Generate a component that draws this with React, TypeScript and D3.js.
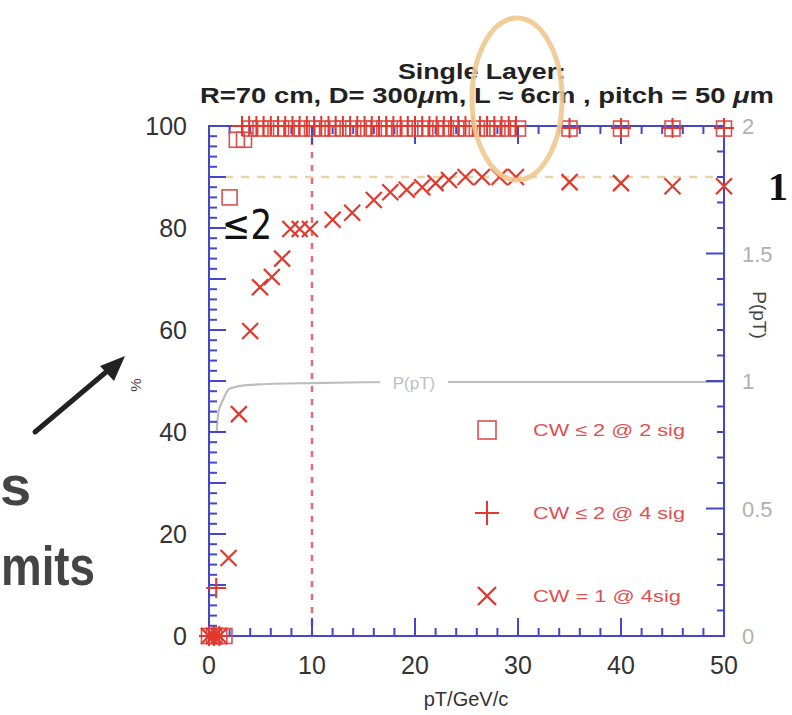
import React from "react";
import * as d3 from "d3";

// ---------- data ----------
const xTickLabels = [0, 10, 20, 30, 40, 50];
const yTickLabels = [0, 20, 40, 60, 80, 100];
const yRightTickLabels = ["0", "0.5", "1", "1.5", "2"];
const yRightTickValues = [0, 0.5, 1, 1.5, 2];

// CW <= 2 @ 2 sig (squares)
const sqPt = [0, 0.5, 1, 1.5, 2, 2.7, 3.4, 4, 5, 6, 7, 8, 9, 10, 11, 12, 13, 14, 15, 16, 17, 18, 19, 20, 21, 22, 23, 24, 25, 26, 27, 28, 29, 30, 35, 40, 45, 50];
const sqVal = [0, 0, 0, 0, 86, 97.3, 97.3, 99.5, 99.5, 99.5, 99.5, 99.5, 99.5, 99.5, 99.5, 99.5, 99.5, 99.5, 99.5, 99.5, 99.5, 99.5, 99.5, 99.5, 99.5, 99.5, 99.5, 99.5, 99.5, 99.5, 99.5, 99.5, 99.5, 99.5, 99.5, 99.5, 99.5, 99.5];

// CW <= 2 @ 4 sig (pluses)
const plPt = [0, 0.5, 1, 0.7, 3.2, 3.9, 4.6, 5.3, 6, 6.7, 7.4, 8.1, 8.8, 9.5, 10.2, 10.9, 11.6, 12.3, 13, 13.7, 14.4, 15.1, 15.8, 16.5, 17.2, 17.9, 18.6, 19.3, 20, 20.7, 21.4, 22.1, 22.8, 23.5, 24.2, 24.9, 25.6, 26.3, 27, 27.7, 28.4, 29.1, 29.8, 35, 40, 45, 50];
const plVal = [0, 0, 0, 9.4, 100, 100, 100, 100, 100, 100, 100, 100, 100, 100, 100, 100, 100, 100, 100, 100, 100, 100, 100, 100, 100, 100, 100, 100, 100, 100, 100, 100, 100, 100, 100, 100, 100, 100, 100, 100, 100, 100, 100, 99.6, 99.6, 99.6, 99.6];

// CW = 1 @ 4sig (crosses)
const crPt = [0, 0.5, 1, 1.9, 2.9, 4, 4.95, 6.1, 7.1, 7.9, 8.8, 9.8, 12, 13.9, 16, 17.6, 19.2, 20.7, 22, 23.3, 24.9, 26.5, 28.2, 29.8, 35, 40, 45, 50];
const crVal = [0, 0, 0, 15.3, 43.5, 59.8, 68.4, 70.4, 74, 79.8, 79.8, 79.8, 81.6, 83, 85.5, 87, 87.5, 88, 88.8, 89.4, 90, 90, 90, 90, 89, 88.8, 88.2, 88.2];

// P(pT) curve (right axis)
const pPt = [0.75, 0.9, 1.35, 2, 4, 10, 20, 50];
const pVal = [0.8, 0.875, 0.925, 0.97, 0.985, 0.992, 0.996, 0.996];

const legendItems = ["CW \u2264 2 @ 2 sig", "CW \u2264 2 @ 4 sig", "CW = 1 @ 4sig"];

// ---------- layout ----------
const W = 792, H = 715;
const L = 209, R = 724, T = 126, B = 636;
const BLUE = "#4646cc";
const RED = "#e2392c";
const SQRED = "#dc5050";
const FONT = "'Liberation Sans', Arial, Helvetica, sans-serif";

const x = d3.scaleLinear().domain([0, 50]).range([L, R]);
const y = d3.scaleLinear().domain([0, 100]).range([B, T]);
const yR = d3.scaleLinear().domain([0, 2]).range([B, T]);

const Square = ({ cx, cy, s, color, w }: any) => (
  <rect x={cx - s / 2} y={cy - s / 2} width={s} height={s} fill="none" stroke={color} strokeWidth={w} />
);
const Plus = ({ cx, cy, s, color, w }: any) => (
  <path d={`M${cx - s / 2},${cy}H${cx + s / 2}M${cx},${cy - s / 2}V${cy + s / 2}`} stroke={color} strokeWidth={w} fill="none" />
);
const Cross = ({ cx, cy, s, color, w }: any) => (
  <path d={`M${cx - s / 2},${cy - s / 2}L${cx + s / 2},${cy + s / 2}M${cx - s / 2},${cy + s / 2}L${cx + s / 2},${cy - s / 2}`} stroke={color} strokeWidth={w} fill="none" />
);

export default function App() {
  const minorX = d3.range(0, 51, 2);
  const minorY = d3.range(0, 101, 2);
  const minorR = d3.range(0, 21, 1).map((v) => v / 10);

  const pLine = d3
    .line<number>()
    .x((_, i) => x(pPt[i]))
    .y((d) => yR(d))
    .curve(d3.curveMonotoneX)(pVal) as string;

  return (
    <svg width={W} height={H} style={{ position: "absolute", left: 0, top: 0, background: "#fff" }} fontFamily={FONT}>
      <rect width={W} height={H} fill="#fff" />

      {/* Title */}
      <text x={482} y={79} textAnchor="middle" fontSize={22} fontWeight="bold" fill="#222" textLength={168} lengthAdjust="spacingAndGlyphs">Single Layer:</text>
      <text x={487} y={103} textAnchor="middle" fontSize={22} fontWeight="bold" fill="#222" textLength={574} lengthAdjust="spacingAndGlyphs">
        R=70 cm, D= 300<tspan fontStyle="italic">μ</tspan>m, L ≈ 6cm , pitch = 50 <tspan fontStyle="italic">μ</tspan>m
      </text>

      {/* dashed reference lines */}
      <line x1={x(0)} x2={x(50)} y1={y(90)} y2={y(90)} stroke="#ecd2a6" strokeWidth={2.5} strokeDasharray="8,8" />
      <line x1={x(10)} x2={x(10)} y1={T} y2={B} stroke="#e26a7c" strokeWidth={2.5} strokeDasharray="6,7" />

      {/* P(pT) curve */}
      <path d={pLine} fill="none" stroke="#bdbdbd" strokeWidth={2.2} />
      <rect x={380} y={372} width={68} height={22} fill="#fff" />
      <text x={414} y={389} textAnchor="middle" fontSize={17} fill="#c0c0c0">P(pT)</text>

      {/* axes frame */}
      <g stroke={BLUE} strokeWidth={2} fill="none">
        <rect x={L} y={T} width={R - L} height={B - T} />
        {minorX.map((v) => {
          const len = v % 10 === 0 ? 18 : 8;
          return (
            <g key={"x" + v}>
              <line x1={x(v)} x2={x(v)} y1={B} y2={B - len} />
              <line x1={x(v)} x2={x(v)} y1={T} y2={T + len} />
            </g>
          );
        })}
        {minorY.map((v) => {
          const len = v % 10 === 0 ? 17 : 8;
          return <line key={"y" + v} x1={L} x2={L + len} y1={y(v)} y2={y(v)} />;
        })}
        {minorR.map((v, i) => {
          const len = i % 5 === 0 ? 18 : 7;
          return <line key={"r" + i} x1={R} x2={R - len} y1={yR(v)} y2={yR(v)} />;
        })}
      </g>

      {/* tick labels */}
      {yTickLabels.map((v) => (
        <text key={"yl" + v} x={187} y={y(v) + 9} textAnchor="end" fontSize={25} fill="#333">{v}</text>
      ))}
      {xTickLabels.map((v) => (
        <text key={"xl" + v} x={x(v)} y={674} textAnchor="middle" fontSize={25} fill="#333">{v}</text>
      ))}
      {yRightTickValues.map((v, i) => (
        <text key={"rl" + i} x={742} y={yR(v) + 8} textAnchor="start" fontSize={22} fill="#b0b0b0">{yRightTickLabels[i]}</text>
      ))}

      {/* axis titles */}
      <text x={466} y={706} textAnchor="middle" fontSize={20} fill="#333">pT/GeV/c</text>
      <text transform="translate(753,315) rotate(90)" textAnchor="middle" fontSize={19} fill="#444">P(pT)</text>
      <text transform="translate(141,385) rotate(-90)" textAnchor="middle" fontSize={15} fill="#444">%</text>

      {/* data: squares */}
      {sqPt.map((p, i) => (
        <Square key={"s" + i} cx={x(p)} cy={y(sqVal[i])} s={15} color={SQRED} w={1.6} />
      ))}
      {/* data: pluses */}
      {plPt.map((p, i) => (
        <Plus key={"p" + i} cx={x(p)} cy={y(plVal[i])} s={20} color={RED} w={2} />
      ))}
      {/* data: crosses */}
      {crPt.map((p, i) => (
        <Cross key={"c" + i} cx={x(p)} cy={y(crVal[i])} s={16} color={RED} w={2.2} />
      ))}

      {/* legend */}
      {legendItems.map((t, i) => {
        const cy = 430 + i * 83;
        return (
          <g key={"lg" + i}>
            {i === 0 && <Square cx={487} cy={cy} s={18} color={SQRED} w={1.6} />}
            {i === 1 && <Plus cx={487} cy={cy} s={24} color={RED} w={2} />}
            {i === 2 && <Cross cx={487} cy={cy} s={18} color={RED} w={2.4} />}
            <text x={533} y={cy + 6} fontSize={17} fill="#e05050" textLength={i === 2 ? 148 : 152} lengthAdjust="spacingAndGlyphs">{t}</text>
          </g>
        );
      })}

      {/* annotations */}
      <text x={222} y={239} fontSize={40} fill="#111" fontFamily="'DejaVu Sans', sans-serif" textLength={50} lengthAdjust="spacingAndGlyphs">≤2</text>
      <text x={768} y={200} fontSize={40} fontWeight="bold" fill="#111" fontFamily="'Liberation Serif', serif">1</text>
      <ellipse cx={517} cy={99} rx={45} ry={81} fill="none" stroke="#f0c88e" strokeWidth={5} opacity={0.9} />

      {/* arrow */}
      <line x1={35} y1={432} x2={112} y2={367} stroke="#222" strokeWidth={5} strokeLinecap="round" />
      <polygon points="125,356 100,366 114,381" fill="#222" />

      <text x={0} y={505} fontSize={56} fontWeight="bold" fill="#444" fontFamily="'Liberation Sans', Arial, sans-serif">s</text>
      <text x={1} y={585} fontSize={56} fontWeight="bold" fill="#444" textLength={94} lengthAdjust="spacingAndGlyphs" fontFamily="'Liberation Sans', Arial, sans-serif">mits</text>
    </svg>
  );
}
